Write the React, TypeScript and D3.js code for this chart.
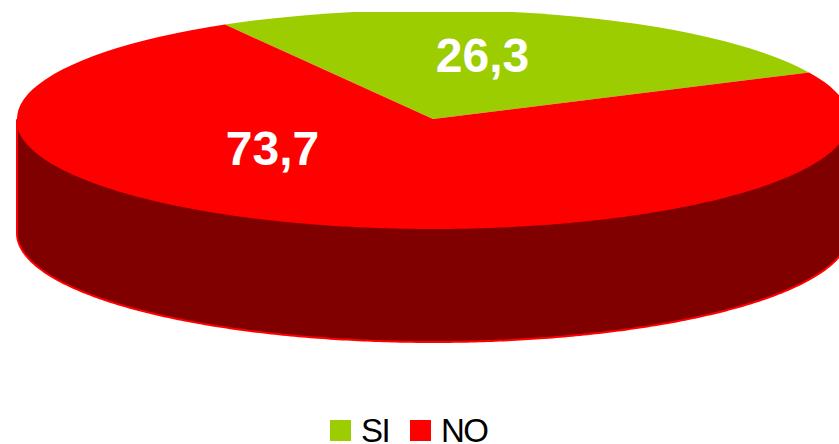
import * as d3 from "d3";

const categories = ["SI", "NO"];
const values = [26.3, 73.7];
const labels = ["26,3", "73,7"];
const colors = ["#9bcd00", "#ff0000"];

const width = 839;
const height = 444;
const cx = 433;
const cy = 119;
const rx = 416;
const ry = 109;
const depth = 114;
const unit = 100;

// pie starts at the upper left, just behind the green slice
const startAngle = (-30 * Math.PI) / 180;
const slices = d3
  .pie<number>()
  .sort(null)
  .startAngle(startAngle)
  .endAngle(startAngle + 2 * Math.PI)(values);

const arc = d3.arc<d3.PieArcDatum<number>>().innerRadius(0).outerRadius(unit);

// front wall of the disc, lower half of the ellipse pushed down by depth
const wall = d3
  .area<number>()
  .x((t) => cx + rx * Math.cos(t))
  .y0((t) => cy + ry * Math.sin(t))
  .y1((t) => cy + ry * Math.sin(t) + depth)(d3.range(0, Math.PI + 0.005, 0.01));

const labelPos = [
  [482.5, 72],
  [272.5, 165],
];

export default function App() {
  return (
    <svg
      width={width}
      height={height}
      style={{ position: "absolute", left: 0, top: 0, fontFamily: "Liberation Sans, Arial, sans-serif" }}
    >
      <defs>
        <clipPath id="plot">
          <rect x={0} y={12} width={width} height={height - 12} />
        </clipPath>
      </defs>
      <g clipPath="url(#plot)">
        <path d={wall ?? ""} fill="#800000" stroke="#ff0000" strokeWidth={2} />
        <g transform={`translate(${cx},${cy}) scale(${rx / unit},${ry / unit})`}>
          {slices.map((s, i) => (
            <path key={categories[i]} d={arc(s) ?? ""} fill={colors[i]} />
          ))}
        </g>
      </g>
      {labels.map((t, i) => (
        <text
          key={t}
          x={labelPos[i][0]}
          y={labelPos[i][1]}
          textAnchor="middle"
          fontSize={48}
          fontWeight="bold"
          fill="#ffffff"
        >
          {t}
        </text>
      ))}
      <g>
        <rect x={330} y={420} width={21} height={21} fill={colors[0]} />
        <text x={361} y={442} fontSize={33} letterSpacing={-1.5} fill="#000000">
          {categories[0]}
        </text>
        <rect x={410} y={420} width={21} height={21} fill={colors[1]} />
        <text x={441} y={442} fontSize={33} letterSpacing={-1.5} fill="#000000">
          {categories[1]}
        </text>
      </g>
    </svg>
  );
}
